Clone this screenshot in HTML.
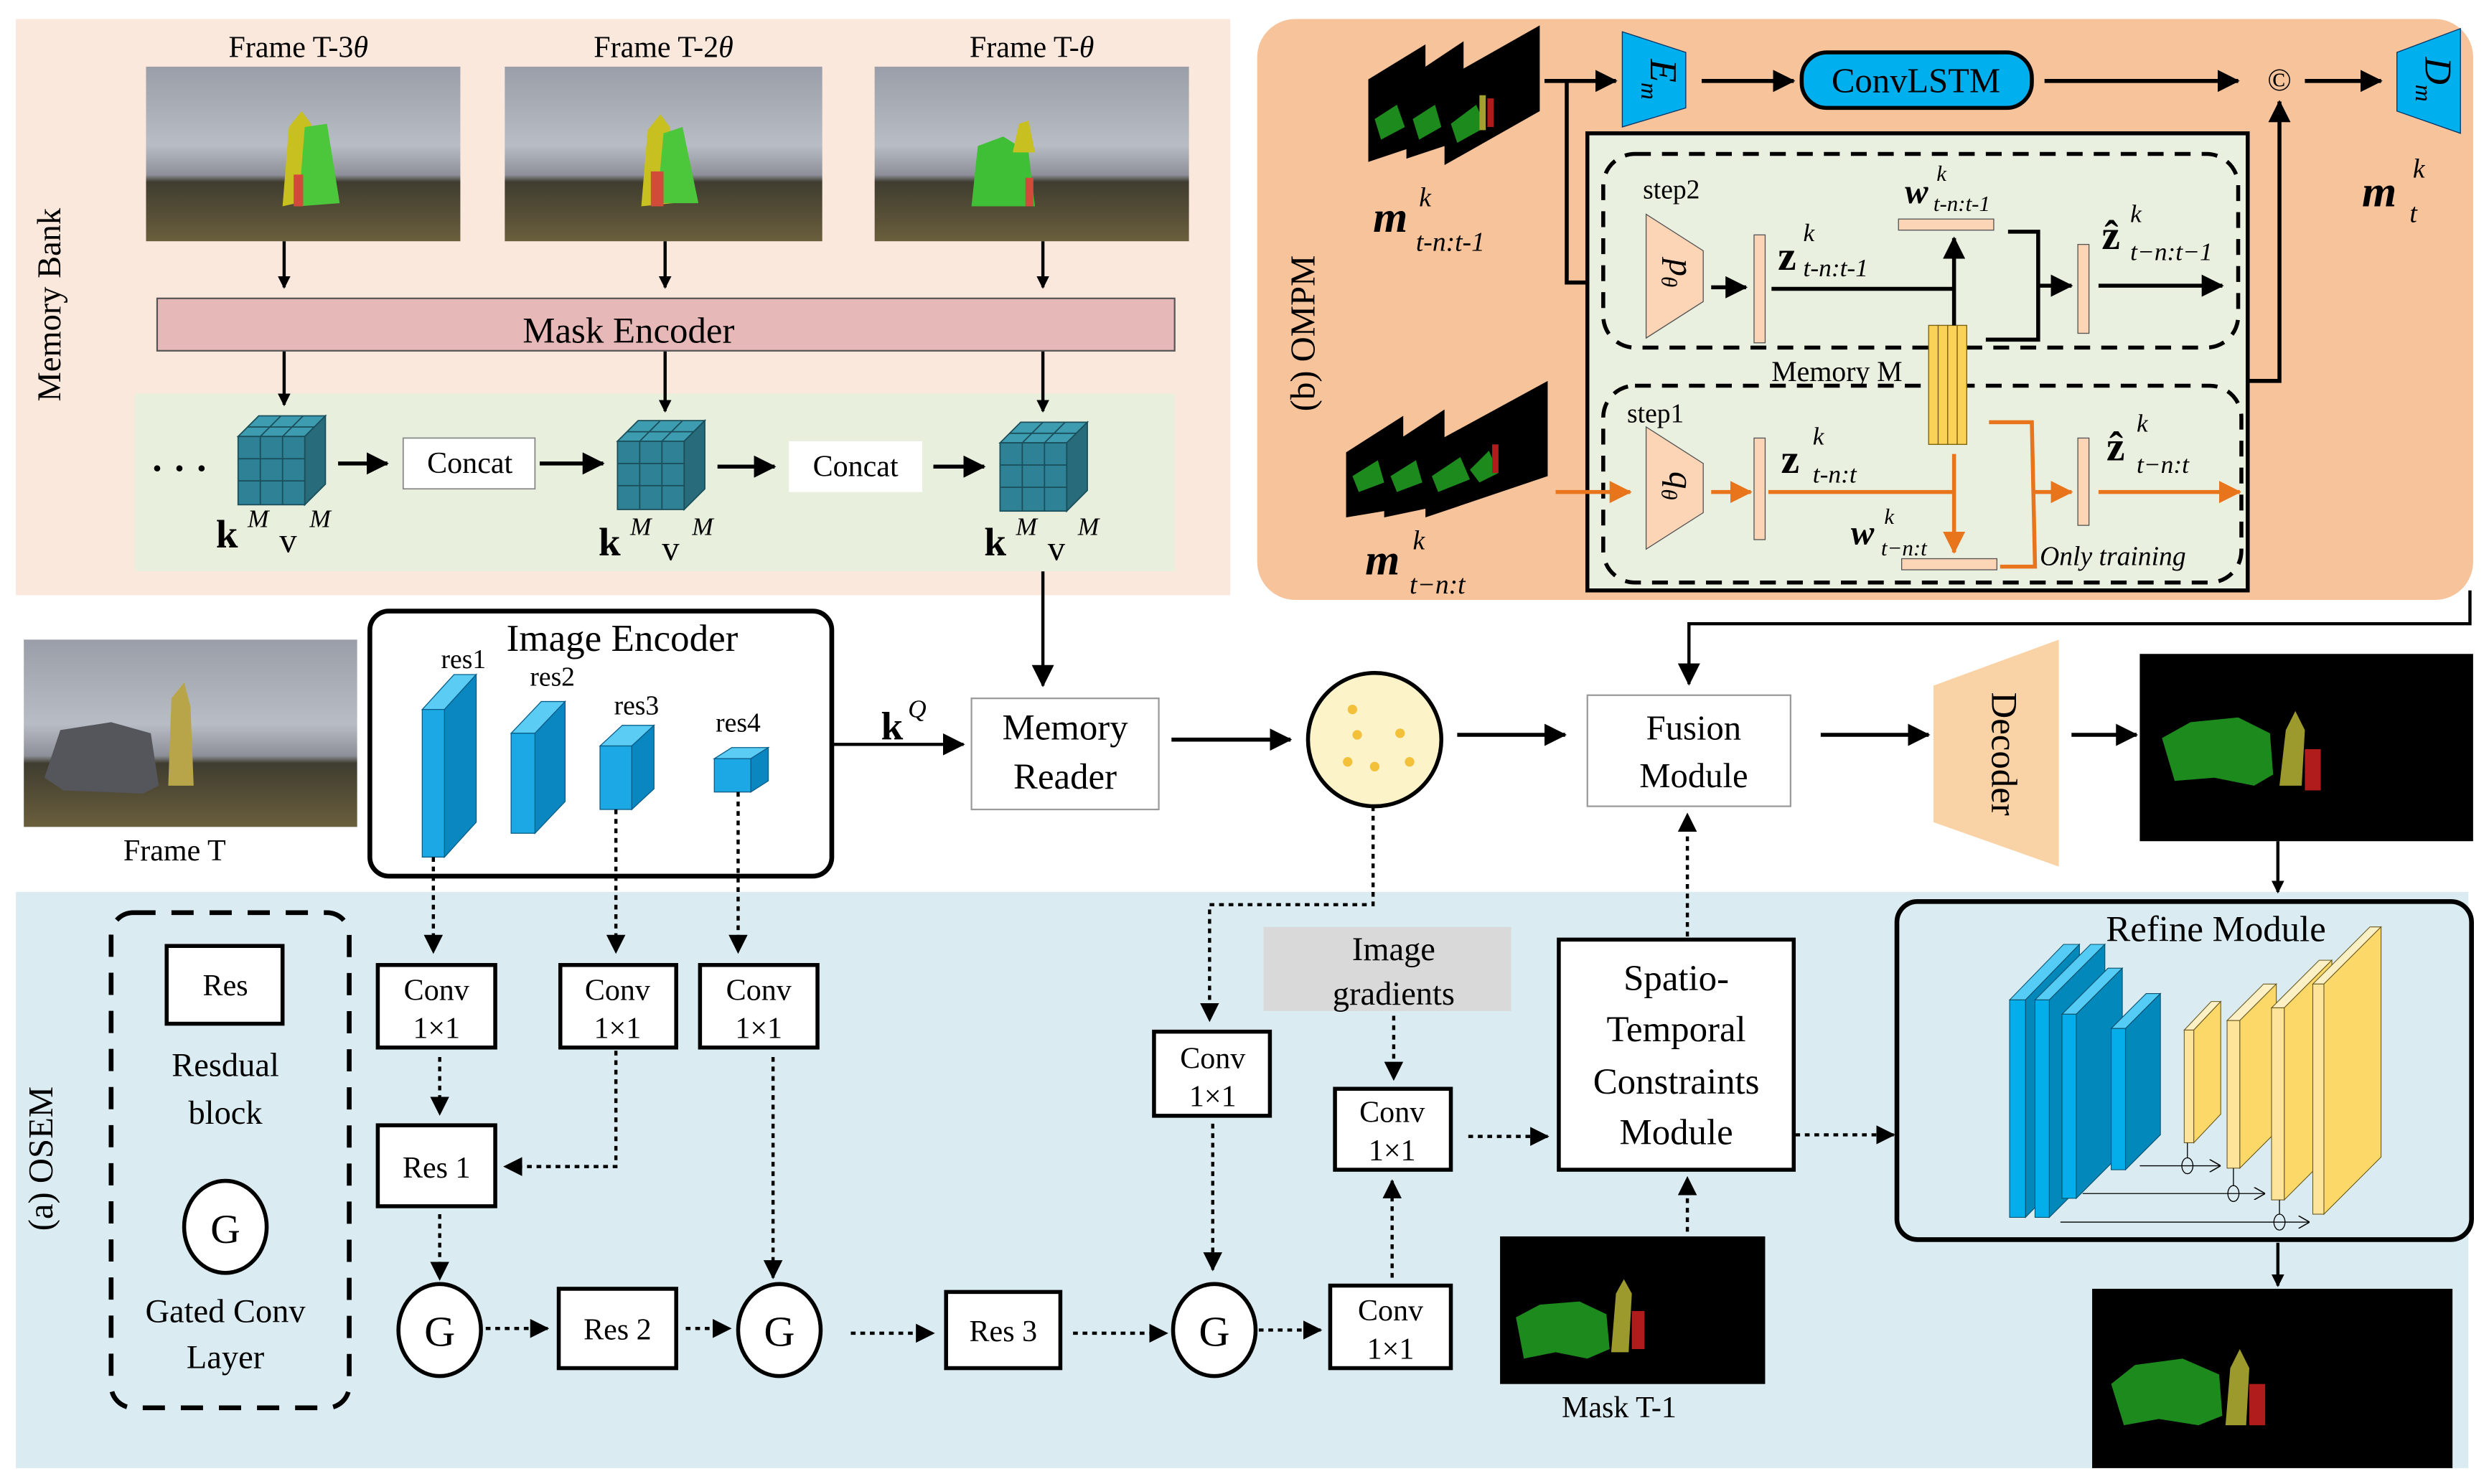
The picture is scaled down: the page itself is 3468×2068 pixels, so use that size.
<!DOCTYPE html>
<html><head><meta charset="utf-8"><style>
html,body{margin:0;padding:0;background:#fff;}
svg{display:block;}
text{font-family:"Liberation Serif",serif;fill:#000;}
</style></head><body>
<svg xmlns="http://www.w3.org/2000/svg" width="3468" height="2068" viewBox="0 0 1568 935" preserveAspectRatio="none">
<defs>
<marker id="a" markerWidth="8" markerHeight="8" refX="7" refY="4" orient="auto" markerUnits="userSpaceOnUse"><path d="M0,0 L8,4 L0,8z" fill="#000"/></marker>
<marker id="ab" markerWidth="14" markerHeight="14" refX="13" refY="7" orient="auto" markerUnits="userSpaceOnUse"><path d="M0,0 L14,7 L0,14z" fill="#000"/></marker>
<marker id="ao" markerWidth="14" markerHeight="14" refX="13" refY="7" orient="auto" markerUnits="userSpaceOnUse"><path d="M0,0 L14,7 L0,14z" fill="#e8741c"/></marker>
<marker id="as" markerWidth="12" markerHeight="12" refX="11" refY="6" orient="auto" markerUnits="userSpaceOnUse"><path d="M0,0 L12,6 L0,12z" fill="#000"/></marker>
<marker id="at" markerWidth="7" markerHeight="8" refX="7" refY="4" orient="auto" markerUnits="userSpaceOnUse"><path d="M0,0 L7,4 L0,8" fill="none" stroke="#000" stroke-width="0.7"/></marker>
<linearGradient id="sky" x1="0" y1="0" x2="0" y2="1"><stop offset="0" stop-color="#9a9ea8"/><stop offset="0.45" stop-color="#b8bcc4"/><stop offset="0.62" stop-color="#8d9098"/><stop offset="0.66" stop-color="#3f3d30"/><stop offset="1" stop-color="#6a5e3c"/></linearGradient>
</defs>

<rect x="10" y="12" width="765" height="363" fill="#fbe8dc"/>
<rect x="85" y="248" width="655" height="112" fill="#e8efdd"/>
<rect x="792" y="12" width="766" height="366" rx="24" fill="#f7c39b"/>
<rect x="10" y="562" width="1545" height="363" fill="#daecf2"/>

<text transform="translate(38,192) rotate(-90)" font-size="21" text-anchor="middle">Memory Bank</text>
<text x="188" y="36" font-size="19" text-anchor="middle">Frame T-3<tspan font-style="italic">θ</tspan></text>
<text x="418" y="36" font-size="19" text-anchor="middle">Frame T-2<tspan font-style="italic">θ</tspan></text>
<text x="650" y="36" font-size="19" text-anchor="middle">Frame T-<tspan font-style="italic">θ</tspan></text>
<g>
<rect x="92" y="42" width="198" height="110" fill="url(#sky)"/>
<path d="M178,130 L182,80 L190,70 L196,78 L200,125 Z" fill="#c8c020"/><path d="M188,130 L192,80 L206,78 L214,128 Z" fill="#4cc63a"/><rect x="185" y="110" width="6" height="20" fill="#d24a3a"/>
<rect x="318" y="42" width="200" height="110" fill="url(#sky)"/>
<path d="M404,130 L408,82 L416,72 L422,80 L424,128 Z" fill="#c8c020"/><path d="M414,128 L418,84 L430,80 L440,128 Z" fill="#4cc63a"/><rect x="410" y="108" width="8" height="22" fill="#d24a3a"/>
<rect x="551" y="42" width="198" height="110" fill="url(#sky)"/>
<path d="M612,130 L616,92 L632,86 L648,96 L652,130 Z" fill="#3fbf35"/><path d="M638,96 L642,78 L648,76 L652,96 Z" fill="#c8c020"/><rect x="646" y="112" width="5" height="18" fill="#d24a3a"/>
</g>
<g stroke="#000" stroke-width="2" fill="none">
<line x1="179" y1="152" x2="179" y2="181" marker-end="url(#a)"/>
<line x1="419" y1="152" x2="419" y2="181" marker-end="url(#a)"/>
<line x1="657" y1="152" x2="657" y2="181" marker-end="url(#a)"/>
<line x1="179" y1="221" x2="179" y2="255" marker-end="url(#a)"/>
<line x1="419" y1="221" x2="419" y2="259" marker-end="url(#a)"/>
<line x1="657" y1="221" x2="657" y2="259" marker-end="url(#a)"/>
</g>
<rect x="99" y="188" width="641" height="33" fill="#e6b8b7" stroke="#555" stroke-width="1"/>
<text x="396" y="216" font-size="23" text-anchor="middle">Mask Encoder</text>

<g id="cube" stroke="#1a4e5a" stroke-width="0.8">
<polygon points="150,275 192,275 205,262 163,262" fill="#3e9cb0"/>
<polygon points="192,275 205,262 205,305 192,318" fill="#286c7c"/>
<rect x="150" y="275" width="42" height="43" fill="#2f8196"/>
<line x1="164" y1="275" x2="164" y2="318"/><line x1="178" y1="275" x2="178" y2="318"/>
<line x1="150" y1="289" x2="192" y2="289"/><line x1="150" y1="303" x2="192" y2="303"/>
<line x1="156" y1="269" x2="198" y2="269"/><line x1="164" y1="275" x2="177" y2="262"/><line x1="178" y1="275" x2="191" y2="262"/>
</g>
<use href="#cube" x="239" y="3"/>
<use href="#cube" x="480" y="4"/>
<text x="95" y="303" font-size="24" font-weight="bold">· · ·</text>
<g stroke="#000" stroke-width="2.5">
<line x1="213" y1="292" x2="244" y2="292" marker-end="url(#ab)"/>
<line x1="340" y1="292" x2="380" y2="292" marker-end="url(#ab)"/>
<line x1="452" y1="294" x2="488" y2="294" marker-end="url(#ab)"/>
<line x1="588" y1="294" x2="620" y2="294" marker-end="url(#ab)"/>
</g>
<rect x="254" y="276" width="83" height="32" fill="#fff" stroke="#888" stroke-width="0.8"/>
<text x="296" y="298" font-size="19" text-anchor="middle">Concat</text>
<rect x="497" y="278" width="84" height="32" fill="#fff"/>
<text x="539" y="300" font-size="19" text-anchor="middle">Concat</text>
<text x="136" y="345" font-size="25" font-weight="bold">k</text><text x="156" y="332" font-size="16" font-style="italic">M</text><text x="176" y="348" font-size="22">v</text><text x="195" y="332" font-size="16" font-style="italic">M</text>
<text x="377" y="350" font-size="25" font-weight="bold">k</text><text x="397" y="337" font-size="16" font-style="italic">M</text><text x="417" y="353" font-size="22">v</text><text x="436" y="337" font-size="16" font-style="italic">M</text>
<text x="620" y="350" font-size="25" font-weight="bold">k</text><text x="640" y="337" font-size="16" font-style="italic">M</text><text x="660" y="353" font-size="22">v</text><text x="679" y="337" font-size="16" font-style="italic">M</text>
<line x1="657" y1="360" x2="657" y2="432" stroke="#000" stroke-width="2" marker-end="url(#ab)"/>

<rect x="15" y="403" width="210" height="118" fill="url(#sky)"/>
<path d="M28,490 L38,460 L70,455 L95,462 L100,495 L90,500 L40,498 Z" fill="#55555c"/>
<path d="M106,495 L108,440 L116,430 L120,445 L122,495 Z" fill="#b8a54a"/>
<text x="110" y="542" font-size="19" text-anchor="middle">Frame T</text>

<rect x="233" y="385" width="291" height="167" rx="12" fill="#fff" stroke="#000" stroke-width="3"/>
<text x="392" y="410" font-size="24" text-anchor="middle">Image Encoder</text>
<text x="292" y="421" font-size="17" text-anchor="middle">res1</text>
<text x="348" y="432" font-size="17" text-anchor="middle">res2</text>
<text x="401" y="450" font-size="17" text-anchor="middle">res3</text>
<text x="465" y="461" font-size="17" text-anchor="middle">res4</text>
<g stroke="#0a5f8a" stroke-width="0.6">
<polygon points="266,447 280,447 300,425 286,425" fill="#5bcdf5"/><polygon points="280,447 300,425 300,518 280,540" fill="#0a86c0"/><rect x="266" y="447" width="14" height="93" fill="#1ca8e4"/>
<polygon points="322,462 337,462 356,442 341,442" fill="#5bcdf5"/><polygon points="337,462 356,442 356,505 337,525" fill="#0a86c0"/><rect x="322" y="462" width="15" height="63" fill="#1ca8e4"/>
<polygon points="378,470 398,470 412,457 392,457" fill="#5bcdf5"/><polygon points="398,470 412,457 412,497 398,510" fill="#0a86c0"/><rect x="378" y="470" width="20" height="40" fill="#1ca8e4"/>
<polygon points="450,478 473,478 484,471 461,471" fill="#5bcdf5"/><polygon points="473,478 484,471 484,492 473,499" fill="#0a86c0"/><rect x="450" y="478" width="23" height="21" fill="#1ca8e4"/>
</g>
<text x="555" y="466" font-size="25" font-weight="bold">k</text><text x="572" y="452" font-size="16" font-style="italic">Q</text>
<line x1="524" y1="469" x2="607" y2="469" stroke="#000" stroke-width="2" marker-end="url(#ab)"/>

<rect x="612" y="440" width="118" height="70" fill="#fff" stroke="#999" stroke-width="1"/>
<text x="671" y="466" font-size="23" text-anchor="middle">Memory</text>
<text x="671" y="497" font-size="23" text-anchor="middle">Reader</text>
<line x1="738" y1="466" x2="813" y2="466" stroke="#000" stroke-width="2.5" marker-end="url(#ab)"/>
<ellipse cx="866" cy="466" rx="42" ry="42" fill="#fdf3c8" stroke="#000" stroke-width="2.5"/>
<g fill="#f3c03a"><circle cx="852" cy="447" r="3"/><circle cx="855" cy="463" r="3"/><circle cx="882" cy="462" r="3"/><circle cx="849" cy="480" r="3"/><circle cx="866" cy="483" r="3"/><circle cx="888" cy="480" r="3"/></g>
<line x1="918" y1="463" x2="986" y2="463" stroke="#000" stroke-width="2.5" marker-end="url(#ab)"/>
<rect x="1000" y="438" width="128" height="70" fill="#fff" stroke="#999" stroke-width="1"/>
<text x="1067" y="466" font-size="22" text-anchor="middle">Fusion</text>
<text x="1067" y="496" font-size="22" text-anchor="middle">Module</text>
<line x1="1147" y1="463" x2="1215" y2="463" stroke="#000" stroke-width="2.5" marker-end="url(#ab)"/>
<polygon points="1218,432 1297,403 1297,546 1218,518" fill="#f9d3a5"/>
<text transform="translate(1255,475) rotate(90)" font-size="23" text-anchor="middle">Decoder</text>
<line x1="1305" y1="463" x2="1346" y2="463" stroke="#000" stroke-width="2.5" marker-end="url(#ab)"/>
<rect x="1348" y="412" width="210" height="118" fill="#000"/>
<path d="M1362,465 L1380,455 L1410,452 L1430,462 L1432,488 L1420,495 L1395,490 L1370,492 Z" fill="#1d8a1d"/>
<path d="M1436,495 L1440,460 L1446,448 L1452,460 L1450,495 Z" fill="#9c9a2c"/><rect x="1452" y="472" width="10" height="26" fill="#b01c1c"/>
<line x1="1435" y1="530" x2="1435" y2="562" stroke="#000" stroke-width="2" marker-end="url(#a)"/>
<polyline points="1556,372 1556,393 1064,393 1064,431" fill="none" stroke="#000" stroke-width="2" marker-end="url(#ab)"/>

<text transform="translate(828,210) rotate(-90)" font-size="22" text-anchor="middle">(b) OMPM</text>
<g>
<polygon points="862,50 898,28 898,90 862,102" fill="#000"/>
<polygon points="886,50 922,26 922,88 886,100" fill="#000"/>
<polygon points="910,50 970,16 970,70 910,104" fill="#000"/>
<path d="M866,75 L880,66 L885,80 L870,88 Z" fill="#1d8a1d"/><path d="M890,75 L904,66 L908,80 L894,88 Z" fill="#1d8a1d"/><path d="M914,78 L930,66 L936,80 L918,90 Z" fill="#1d8a1d"/><rect x="932" y="60" width="4" height="22" fill="#a4a030"/><rect x="937" y="62" width="4" height="18" fill="#b01c1c"/>
<polygon points="848,285 884,262 884,320 848,326" fill="#000"/>
<polygon points="872,283 910,258 910,318 872,326" fill="#000"/>
<polygon points="898,282 975,240 975,300 898,326" fill="#000"/>
<path d="M852,300 L868,290 L872,304 L856,310 Z" fill="#1d8a1d"/><path d="M876,300 L892,290 L896,304 L880,310 Z" fill="#1d8a1d"/><path d="M902,300 L920,288 L926,302 L906,310 Z" fill="#1d8a1d"/><path d="M926,296 L938,284 L944,298 L932,304 Z" fill="#1d8a1d"/><rect x="940" y="280" width="4" height="18" fill="#b01c1c"/>
</g>
<text x="865" y="146" font-size="28" font-weight="bold" font-style="italic">m</text><text x="894" y="130" font-size="17" font-style="italic">k</text><text x="892" y="158" font-size="17" font-style="italic">t-n:t-1</text>
<text x="860" y="362" font-size="28" font-weight="bold" font-style="italic">m</text><text x="890" y="346" font-size="17" font-style="italic">k</text><text x="888" y="374" font-size="17" font-style="italic">t−n:t</text>
<polygon points="1022,20 1062,33 1062,68 1022,80" fill="#00b0ee" stroke="#036" stroke-width="0.6"/>
<text transform="translate(1040,50) rotate(90)" font-size="24" font-style="italic" text-anchor="middle">E<tspan font-size="15" dy="6">m</tspan></text>
<polygon points="1510,33 1550,18 1550,84 1510,70" fill="#00b0ee" stroke="#036" stroke-width="0.6"/>
<text transform="translate(1528,50) rotate(90)" font-size="24" font-style="italic" text-anchor="middle">D<tspan font-size="15" dy="6">m</tspan></text>
<text x="1488" y="130" font-size="28" font-weight="bold" font-style="italic">m</text><text x="1520" y="112" font-size="17" font-style="italic">k</text><text x="1518" y="140" font-size="17" font-style="italic">t</text>
<g stroke="#000" stroke-width="2.5" fill="none">
<line x1="973" y1="51" x2="1018" y2="51" marker-end="url(#ab)"/>
<polyline points="987,51 987,178 1032,178" marker-end="url(#ab)"/>
<line x1="1072" y1="51" x2="1130" y2="51" marker-end="url(#ab)"/>
<line x1="1288" y1="51" x2="1410" y2="51" marker-end="url(#ab)"/>
<line x1="1452" y1="51" x2="1500" y2="51" marker-end="url(#ab)"/>
<polyline points="1416,240 1436,240 1436,64" marker-end="url(#ab)"/>
</g>
<rect x="1135" y="33" width="145" height="35" rx="16" fill="#00b0ee" stroke="#000" stroke-width="2.5"/>
<text x="1207" y="58" font-size="22" text-anchor="middle">ConvLSTM</text>
<text x="1436" y="57" font-size="20" text-anchor="middle">©</text>

<rect x="1000" y="84" width="416" height="288" fill="#eaf0df" stroke="#000" stroke-width="2.5"/>
<rect x="1010" y="97" width="400" height="122" rx="20" fill="none" stroke="#000" stroke-width="2.5" stroke-dasharray="10,7"/>
<rect x="1010" y="243" width="402" height="124" rx="20" fill="none" stroke="#000" stroke-width="2.5" stroke-dasharray="10,7"/>
<text x="1035" y="125" font-size="17">step2</text>
<text x="1025" y="266" font-size="17">step1</text>
<polygon points="1037,135 1073,158 1073,190 1037,213" fill="#fbd5b6" stroke="#555" stroke-width="0.6"/>
<text transform="translate(1052,172) rotate(90)" font-size="22" font-style="italic" text-anchor="middle">p<tspan font-size="14" dy="5">θ</tspan></text>
<polygon points="1037,269 1073,292 1073,323 1037,346" fill="#fbd5b6" stroke="#555" stroke-width="0.6"/>
<text transform="translate(1052,306) rotate(90)" font-size="22" font-style="italic" text-anchor="middle">q<tspan font-size="14" dy="5">θ</tspan></text>
<g fill="#fbd5b6" stroke="#555" stroke-width="0.6">
<rect x="1105" y="148" width="7" height="68"/><rect x="1105" y="276" width="7" height="64"/>
<rect x="1309" y="154" width="7" height="56"/><rect x="1309" y="276" width="7" height="55"/>
<rect x="1196" y="138" width="60" height="7"/><rect x="1198" y="352" width="60" height="7"/>
</g>
<g fill="#f9d257" stroke="#7a6010" stroke-width="0.6">
<rect x="1215" y="205" width="6" height="75"/><rect x="1221" y="205" width="6" height="75"/><rect x="1227" y="205" width="6" height="75"/><rect x="1233" y="205" width="6" height="75"/>
</g>
<text x="1116" y="240" font-size="18">Memory M</text>
<g stroke="#000" stroke-width="2.5" fill="none">
<line x1="1078" y1="181" x2="1100" y2="181" marker-end="url(#ab)"/>
<polyline points="1116,182 1232,182"/>
<line x1="1231" y1="205" x2="1231" y2="150" marker-end="url(#ab)"/>
<polyline points="1265,146 1284,146 1284,214 1251,214"/>
<line x1="1284" y1="180" x2="1305" y2="180" marker-end="url(#ab)"/>
<line x1="1322" y1="180" x2="1400" y2="180" marker-end="url(#ab)"/>
</g>
<g stroke="#e8741c" stroke-width="2.5" fill="none">
<line x1="980" y1="310" x2="1027" y2="310" marker-end="url(#ao)"/>
<line x1="1078" y1="310" x2="1103" y2="310" marker-end="url(#ao)"/>
<polyline points="1114,310 1231,310"/>
<line x1="1231" y1="286" x2="1231" y2="348" marker-end="url(#ao)"/>
<polyline points="1253,266 1280,266 1282,357 1260,357"/>
<line x1="1282" y1="310" x2="1305" y2="310" marker-end="url(#ao)"/>
<line x1="1322" y1="310" x2="1411" y2="310" marker-end="url(#ao)"/>
</g>
<text x="1120" y="170" font-size="26" font-weight="bold">z</text><text x="1136" y="152" font-size="16" font-style="italic">k</text><text x="1136" y="174" font-size="16" font-style="italic">t-n:t-1</text>
<text x="1200" y="128" font-size="22" font-weight="bold" font-style="italic">w</text><text x="1220" y="114" font-size="14" font-style="italic">k</text><text x="1218" y="133" font-size="14" font-style="italic">t-n:t-1</text>
<text x="1324" y="157" font-size="26" font-weight="bold">ẑ</text><text x="1342" y="140" font-size="16" font-style="italic">k</text><text x="1342" y="164" font-size="16" font-style="italic">t−n:t−1</text>
<text x="1122" y="298" font-size="26" font-weight="bold">z</text><text x="1142" y="280" font-size="16" font-style="italic">k</text><text x="1142" y="304" font-size="16" font-style="italic">t-n:t</text>
<text x="1166" y="343" font-size="22" font-weight="bold" font-style="italic">w</text><text x="1187" y="330" font-size="14" font-style="italic">k</text><text x="1185" y="350" font-size="14" font-style="italic">t−n:t</text>
<text x="1327" y="290" font-size="26" font-weight="bold">ẑ</text><text x="1346" y="272" font-size="16" font-style="italic">k</text><text x="1346" y="298" font-size="16" font-style="italic">t−n:t</text>
<text x="1285" y="356" font-size="17" font-style="italic">Only training</text>

<text transform="translate(33,730) rotate(-90)" font-size="22" text-anchor="middle">(a) OSEM</text>
<rect x="70" y="575" width="150" height="312" rx="14" fill="none" stroke="#000" stroke-width="3" stroke-dasharray="14,10"/>
<rect x="105" y="596" width="73" height="49" fill="#fff" stroke="#000" stroke-width="2.5"/>
<text x="142" y="627" font-size="19" text-anchor="middle">Res</text>
<text x="142" y="678" font-size="21" text-anchor="middle">Resdual</text>
<text x="142" y="708" font-size="21" text-anchor="middle">block</text>
<ellipse cx="142" cy="773" rx="26" ry="29" fill="#fff" stroke="#000" stroke-width="2.5"/>
<text x="142" y="783" font-size="26" text-anchor="middle">G</text>
<text x="142" y="833" font-size="21" text-anchor="middle">Gated Conv</text>
<text x="142" y="862" font-size="21" text-anchor="middle">Layer</text>

<g fill="#fff" stroke="#000" stroke-width="2.5">
<rect x="238" y="608" width="74" height="52"/><rect x="353" y="608" width="73" height="52"/><rect x="441" y="608" width="74" height="52"/>
<rect x="238" y="709" width="74" height="51"/>
<rect x="352" y="812" width="74" height="50"/><rect x="596" y="814" width="72" height="48"/>
<rect x="838" y="810" width="76" height="52"/><rect x="727" y="650" width="73" height="53"/><rect x="841" y="686" width="73" height="51"/>
<rect x="982" y="592" width="148" height="145"/>
<ellipse cx="277" cy="838" rx="26" ry="29"/><ellipse cx="491" cy="838" rx="26" ry="29"/><ellipse cx="765" cy="838" rx="26" ry="29"/>
</g>
<g font-size="19" text-anchor="middle">
<text x="275" y="630">Conv</text><text x="275" y="654">1×1</text>
<text x="389" y="630">Conv</text><text x="389" y="654">1×1</text>
<text x="478" y="630">Conv</text><text x="478" y="654">1×1</text>
<text x="764" y="673">Conv</text><text x="764" y="697">1×1</text>
<text x="877" y="707">Conv</text><text x="877" y="731">1×1</text>
<text x="876" y="832">Conv</text><text x="876" y="856">1×1</text>
<text x="275" y="742">Res 1</text><text x="389" y="844">Res 2</text><text x="632" y="845">Res 3</text>
</g>
<g font-size="27" text-anchor="middle"><text x="277" y="848">G</text><text x="491" y="848">G</text><text x="765" y="848">G</text></g>
<rect x="796" y="584" width="156" height="53" fill="#d9d9d9"/>
<text x="878" y="605" font-size="21" text-anchor="middle">Image</text>
<text x="878" y="633" font-size="21" text-anchor="middle">gradients</text>
<g font-size="23" text-anchor="middle"><text x="1056" y="624">Spatio-</text><text x="1056" y="656">Temporal</text><text x="1056" y="689">Constraints</text><text x="1056" y="721">Module</text></g>
<rect x="945" y="779" width="167" height="93" fill="#000"/>
<path d="M955,830 L970,822 L995,820 L1012,828 L1014,850 L1000,856 L980,852 L960,856 Z" fill="#1d8a1d"/>
<path d="M1015,852 L1018,815 L1023,806 L1028,815 L1026,852 Z" fill="#9c9a2c"/><rect x="1028" y="826" width="8" height="24" fill="#b01c1c"/>
<text x="1020" y="893" font-size="19" text-anchor="middle">Mask T-1</text>

<g stroke="#000" stroke-width="2" fill="none" stroke-dasharray="3,3">
<line x1="273" y1="540" x2="273" y2="600" marker-end="url(#as)"/>
<line x1="388" y1="510" x2="388" y2="600" marker-end="url(#as)"/>
<line x1="465" y1="499" x2="465" y2="600" marker-end="url(#as)"/>
<line x1="277" y1="666" x2="277" y2="702" marker-end="url(#as)"/>
<polyline points="388,662 388,735 318,735" marker-end="url(#as)"/>
<line x1="277" y1="765" x2="277" y2="806" marker-end="url(#as)"/>
<line x1="487" y1="666" x2="487" y2="805" marker-end="url(#as)"/>
<line x1="306" y1="837" x2="345" y2="837" marker-end="url(#as)"/>
<line x1="432" y1="837" x2="460" y2="837" marker-end="url(#as)"/>
<line x1="536" y1="840" x2="588" y2="840" marker-end="url(#as)"/>
<line x1="676" y1="840" x2="735" y2="840" marker-end="url(#as)"/>
<line x1="793" y1="838" x2="832" y2="838" marker-end="url(#as)"/>
<polyline points="865,508 865,570 762,570 762,643" marker-end="url(#as)"/>
<line x1="764" y1="708" x2="764" y2="800" marker-end="url(#as)"/>
<line x1="878" y1="640" x2="878" y2="680" marker-end="url(#as)"/>
<line x1="877" y1="805" x2="877" y2="744" marker-end="url(#as)"/>
<line x1="925" y1="716" x2="975" y2="716" marker-end="url(#as)"/>
<line x1="1131" y1="715" x2="1193" y2="715" marker-end="url(#as)"/>
<line x1="1063" y1="590" x2="1063" y2="513" marker-end="url(#as)"/>
<line x1="1063" y1="776" x2="1063" y2="742" marker-end="url(#as)"/>
</g>

<rect x="1195" y="568" width="362" height="213" rx="13" fill="#daecf2" stroke="#000" stroke-width="3"/>
<text x="1396" y="593" font-size="23" text-anchor="middle">Refine Module</text>
<g stroke="#0a4f6a" stroke-width="0.5">
<polygon points="1266,630 1276,630 1310,595 1300,595" fill="#55ccf5"/><polygon points="1276,630 1310,595 1310,732 1276,767" fill="#0288bb"/><rect x="1266" y="630" width="10" height="137" fill="#03aeea"/>
<polygon points="1282,630 1291,630 1326,595 1317,595" fill="#55ccf5"/><polygon points="1291,630 1326,595 1326,732 1291,767" fill="#0288bb"/><rect x="1282" y="630" width="9" height="137" fill="#03aeea"/>
<polygon points="1299,639 1308,639 1337,610 1328,610" fill="#55ccf5"/><polygon points="1308,639 1337,610 1337,726 1308,755" fill="#0288bb"/><rect x="1299" y="639" width="9" height="116" fill="#03aeea"/>
<polygon points="1330,648 1339,648 1361,626 1352,626" fill="#55ccf5"/><polygon points="1339,648 1361,626 1361,715 1339,737" fill="#0288bb"/><rect x="1330" y="648" width="9" height="89" fill="#03aeea"/>
</g>
<g stroke="#6b5a20" stroke-width="0.5">
<polygon points="1376,649 1382,649 1399,631 1393,631" fill="#fdf0c4"/><polygon points="1382,649 1399,631 1399,702 1382,720" fill="#fbd867"/><rect x="1376" y="649" width="6" height="71" fill="#fde49a"/>
<polygon points="1403,643 1411,643 1434,620 1426,620" fill="#fdf0c4"/><polygon points="1411,643 1434,620 1434,713 1411,736" fill="#fbd867"/><rect x="1403" y="643" width="8" height="93" fill="#fde49a"/>
<polygon points="1431,635 1439,635 1469,605 1461,605" fill="#fdf0c4"/><polygon points="1439,635 1469,605 1469,726 1439,756" fill="#fbd867"/><rect x="1431" y="635" width="8" height="121" fill="#fde49a"/>
<polygon points="1457,620 1464,620 1500,584 1493,584" fill="#fdf0c4"/><polygon points="1464,620 1500,584 1500,729 1464,765" fill="#fbd867"/><rect x="1457" y="620" width="7" height="145" fill="#fde49a"/>
</g>
<g stroke="#000" stroke-width="0.6" fill="none">
<line x1="1348" y1="734.5" x2="1399" y2="734.5" marker-end="url(#at)"/><ellipse cx="1378" cy="734.5" rx="3.5" ry="5"/><line x1="1378" y1="720" x2="1378" y2="729.5"/>
<line x1="1312" y1="752" x2="1427" y2="752" marker-end="url(#at)"/><ellipse cx="1407" cy="752" rx="3.5" ry="5"/><line x1="1407" y1="736" x2="1407" y2="747"/>
<line x1="1298" y1="770" x2="1455" y2="770" marker-end="url(#at)"/><ellipse cx="1436" cy="770" rx="3.5" ry="5"/><line x1="1436" y1="756" x2="1436" y2="765"/>
</g>
<line x1="1435" y1="783" x2="1435" y2="810" stroke="#000" stroke-width="2" marker-end="url(#a)"/>
<rect x="1318" y="812" width="227" height="113" fill="#000"/>
<path d="M1330,872 L1345,860 L1375,856 L1398,866 L1400,892 L1385,898 L1360,894 L1338,898 Z" fill="#1d8a1d"/>
<path d="M1402,898 L1405,862 L1411,850 L1417,862 L1415,898 Z" fill="#9c9a2c"/><rect x="1417" y="872" width="10" height="26" fill="#b01c1c"/>
</svg>
</body></html>
